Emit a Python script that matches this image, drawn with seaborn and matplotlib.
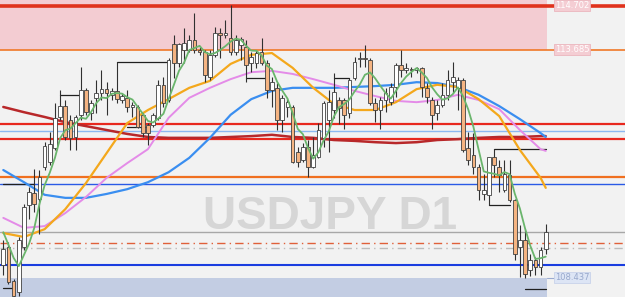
import numpy as np
import pandas as pd
import matplotlib
matplotlib.use("Agg")
import matplotlib.pyplot as plt
import seaborn as sns

# ---------------- data (USDJPY D1) ----------------
opens = [108.74,109.15,108.37,108.11,109.15,110.12,110.39,110.25,110.99,111.10,
         111.43,112.14,112.39,112.07,111.68,112.19,112.76,112.23,112.58,112.69,
         112.78,112.65,112.74,112.53,112.58,112.37,112.37,112.19,111.96,111.96,
         112.12,112.88,112.53,113.82,113.38,113.68,113.68,113.91,113.68,113.63,
         113.06,113.57,114.07,114.03,113.96,113.63,113.80,113.75,113.38,113.38,
         113.63,113.38,112.76,112.81,112.07,112.37,112.37,111.33,111.15,111.45,
         110.99,111.22,111.66,112.07,112.30,112.53,112.53,112.23,113.04,113.47,
         113.50,113.45,112.46,112.30,112.53,112.48,112.83,113.34,113.22,113.24,
         113.22,113.27,112.81,112.53,112.23,112.42,112.65,112.94,112.81,112.99,
         111.43,111.27,110.99,110.37,110.35,111.22,110.99,110.46,110.81,110.23,
         109.15,109.31,108.62,108.85,108.69,109.10]
highs = [109.31,109.26,108.41,109.38,110.14,110.53,110.94,110.92,111.56,111.79,
         112.46,112.76,112.53,112.19,112.19,113.29,112.81,112.53,112.99,113.22,
         112.94,112.81,113.40,112.69,112.76,112.48,112.42,112.23,112.00,112.23,
         112.99,113.06,113.50,114.03,113.84,114.19,114.03,114.53,113.75,113.68,
         113.68,114.21,114.19,114.37,114.72,114.03,113.98,113.91,113.63,113.68,
         113.96,113.45,113.06,112.92,112.65,112.58,112.42,111.45,111.54,111.61,
         111.68,112.00,112.51,112.76,113.15,112.60,112.58,113.04,113.52,113.63,
         113.80,113.50,112.58,112.60,112.81,112.92,113.38,113.68,113.38,113.29,
         113.29,113.29,112.92,112.60,112.53,112.92,113.22,113.40,113.06,113.04,
         111.79,111.77,111.06,110.83,111.22,111.40,111.15,111.15,111.15,110.25,
         109.66,109.56,108.99,108.92,109.15,109.68]
lows = [108.51,108.30,107.95,108.02,109.08,109.79,109.95,109.45,110.92,111.04,
        111.38,112.07,111.61,111.38,111.38,112.07,112.19,112.07,112.23,112.53,
        112.19,112.53,112.46,112.46,112.25,112.14,111.89,111.68,111.50,111.91,
        112.07,112.37,112.48,113.04,113.29,113.38,113.63,113.61,113.57,112.94,
        112.99,113.52,113.50,113.96,113.57,113.57,113.45,112.94,113.17,113.27,
        113.34,112.58,112.37,111.84,111.79,112.14,111.08,110.99,111.10,110.76,
        110.97,111.20,111.45,111.33,112.12,111.98,111.86,112.12,112.99,113.29,
        113.29,112.42,112.02,111.86,112.25,112.42,112.60,113.06,113.15,113.06,
        113.15,112.60,112.46,111.86,112.07,112.37,112.53,112.69,112.30,111.33,
        111.04,110.83,110.23,110.23,110.12,110.76,110.41,110.41,110.18,108.85,
        108.47,108.44,108.48,108.50,108.51,108.99]
closes = [109.10,108.34,108.02,109.31,110.07,110.41,110.14,110.76,111.47,111.52,
          112.12,112.39,111.68,111.66,112.14,112.76,112.25,112.46,112.69,112.78,
          112.69,112.74,112.55,112.62,112.37,112.42,111.91,111.77,111.77,112.19,
          112.88,112.46,113.45,113.38,113.82,113.84,113.91,113.68,113.63,113.11,
          113.57,114.07,114.03,114.07,113.63,113.91,113.93,113.34,113.52,113.61,
          113.38,112.76,112.94,112.07,112.58,112.48,111.10,111.10,111.45,110.99,
          111.27,111.84,112.46,112.48,112.71,112.35,112.19,112.99,113.40,113.50,
          113.47,112.46,112.30,112.53,112.69,112.83,113.34,113.22,113.27,113.22,
          113.27,112.83,112.60,112.19,112.42,112.65,112.99,113.06,112.99,111.38,
          111.15,110.99,110.46,110.46,111.22,111.04,110.81,110.83,110.23,108.99,
          109.31,108.53,108.85,108.69,109.08,109.49]

fast_ma_head = [109.49, 109.20, 108.90, 108.71]   # fast MA before 5 bars exist

ma_idx = [0, 4, 8, 12, 16, 20, 24, 28, 32, 36, 40, 44, 48, 52, 56, 60,
          64, 68, 72, 76, 80, 84, 88, 92, 96, 100, 104, 105]
ma_orange = [109.47,109.38,109.56,110.02,110.62,111.31,112.00,112.30,112.55,112.81,
             112.97,113.36,113.57,113.61,113.27,112.81,112.44,112.30,112.30,112.48,
             112.78,112.88,112.83,112.55,112.16,111.38,110.74,110.51]
ma_violet = [109.82,109.59,109.63,109.93,110.30,110.74,111.08,111.40,112.12,112.58,
             112.81,113.01,113.17,113.20,113.13,113.01,112.88,112.74,112.62,112.51,
             112.48,112.53,112.65,112.53,112.32,111.84,111.40,111.36]
ma_blue = [110.92,110.64,110.35,110.28,110.28,110.37,110.48,110.64,110.87,111.20,
           111.66,112.19,112.55,112.74,112.81,112.81,112.81,112.83,112.85,112.88,
           112.94,112.92,112.83,112.65,112.39,112.09,111.77,111.68]
ma_red = [112.37,112.25,112.14,112.02,111.93,111.84,111.75,111.68,111.66,111.66,
          111.66,111.68,111.70,111.73,111.68,111.66,111.61,111.59,111.56,111.54,
          111.56,111.61,111.63,111.66,111.68,111.68,111.70,111.70]

# horizontal levels
zone_top_lo = 113.685      # resistance zone bottom
zone_bot_hi = 108.437      # support zone top
top_level = 114.702
levels_price = [114.702, 113.685, 111.98, 111.82, 111.63, 110.76, 110.60,
                109.49, 109.24, 109.13, 108.74]
level_labels = ["114.702", "113.685", "108.437"]

# fractal step levels: start bar, end bar, price
step_start = [0, 0, 11, 22, 24, 47, 64, 94, 95, 101]
step_end = [6, 2, 15, 32, 28, 51, 67, 98, 105, 105]
step_price = [110.60, 108.21, 112.65, 113.40, 111.91, 113.04, 113.04, 110.12, 111.40, 108.18]

# ---------------- figure ----------------
sns.set_style("white")
plt.rcParams['font.family'] = ['DejaVu Sans']
W, H = 625, 297
fig = plt.figure(figsize=(W / 100, H / 100), dpi=100)
fig.patch.set_facecolor("#f2f2f2")
ax = fig.add_axes([0, 0, 1, 1])
ax.set_facecolor("#f2f2f2")
ax.axis("off")

step = 5.166
x0 = 3.3
ax.set_xlim(-x0 / step, (W - x0) / step)
ymin, ymax = 108.0, 114.83
ax.set_ylim(ymin, ymax)

n = len(closes)
idx = np.arange(n)
zone_end = n - 1 + 0.2

# zones
ax.fill_between([-1, zone_end], zone_top_lo, ymax, color="#f3ccd2", zorder=0.2, lw=0)
ax.fill_between([-1, zone_end], ymin, zone_bot_hi, color="#c3cde3", zorder=0.2, lw=0)

# watermark
ax.text((330 - x0) / step, 109.84, "USDJPY D1", fontsize=33, fontweight="bold",
        family="Liberation Sans", color="#d6d6d6", ha="center", va="center", zorder=0.3)

# horizontal lines
styles = [
    dict(color="#e0321c", lw=2.6, ls="-"),
    dict(color="#f07828", lw=1.2, ls="-"),
    dict(color="#e8281e", lw=1.6, ls="-"),
    dict(color="#8cb8f0", lw=1.0, ls="-"),
    dict(color="#e8281e", lw=1.6, ls="-"),
    dict(color="#f07020", lw=1.6, ls="-"),
    dict(color="#2a5ae6", lw=1.0, ls="-"),
    dict(color="#a8a8a8", lw=1.0, ls="-"),
    dict(color="#e0603a", lw=1.0, ls=(0, (6, 3, 1, 3))),
    dict(color="#bcbcbc", lw=1.0, ls=(0, (6, 3, 1, 3))),
    dict(color="#1a3de0", lw=1.5, ls="-"),
]
for p, st in zip(levels_price, styles):
    ax.axhline(p, zorder=1, **st)

# fractal step lines
for s, e, p in zip(step_start, step_end, step_price):
    ax.plot([s, e], [p, p], color="#202020", lw=0.9, zorder=1.5)

# moving averages
df_ma = pd.DataFrame({"bar": ma_idx, "orange": ma_orange, "violet": ma_violet,
                      "blue": ma_blue, "red": ma_red})
sns.lineplot(data=df_ma, x="bar", y="red", ax=ax, color="#b8282a", lw=1.8, zorder=2, legend=False)
sns.lineplot(data=df_ma, x="bar", y="blue", ax=ax, color="#3a8ef0", lw=1.6, zorder=2, legend=False)
sns.lineplot(data=df_ma, x="bar", y="violet", ax=ax, color="#e48be8", lw=1.4, zorder=2, legend=False)
sns.lineplot(data=df_ma, x="bar", y="orange", ax=ax, color="#f4a81c", lw=1.6, zorder=2, legend=False)

# candles
df = pd.DataFrame({"bar": idx, "open": opens, "high": highs, "low": lows, "close": closes})
bull = df["close"] >= df["open"]
ax.vlines(df["bar"], df["low"], df["high"], color="#303030", lw=0.8, zorder=3)
bodies = (df["close"] - df["open"]).values
bodies = np.where(np.abs(bodies) < 0.02, np.sign(bodies + 1e-9) * 0.02, bodies)
ax.bar(df["bar"], bodies, bottom=df["open"], width=0.7,
       color=np.where(bull, "#ffffff", "#f5b482"), edgecolor="#404040",
       linewidth=0.6, zorder=4)

# fast MA (5)
fast = df["close"].rolling(5).mean().values
fast[:4] = fast_ma_head
sns.lineplot(x=idx, y=fast, ax=ax, color="#6ab56c", lw=1.3, zorder=5, legend=False)

ax.set_xlabel("")
ax.set_ylabel("")
ax.set_xlim(-x0 / step, (W - x0) / step)
ax.set_ylim(ymin, ymax)

# price labels
lx = (555 - x0) / step
ax.text(lx, top_level, level_labels[0], fontsize=6, color="#ffffff", va="center", ha="left",
        bbox=dict(boxstyle="square,pad=0.12", fc="#f4cdd3", ec="#ebb6be", lw=0.6), zorder=6)
ax.text(lx, zone_top_lo, level_labels[1], fontsize=6, color="#ffffff", va="center", ha="left",
        bbox=dict(boxstyle="square,pad=0.12", fc="#f4cdd3", ec="#ebb6be", lw=0.6), zorder=6)
ax.plot([zone_end, lx - 0.2], [zone_bot_hi, zone_bot_hi], color="#9aaad0", lw=0.8, zorder=6)
ax.text(lx, zone_bot_hi, level_labels[2], fontsize=6, color="#98a8cc", va="center", ha="left",
        bbox=dict(boxstyle="square,pad=0.12", fc="#dde5f5", ec="#c8d3ea", lw=0.6), zorder=6)

fig.savefig("out.png", dpi=100, facecolor=fig.get_facecolor())
